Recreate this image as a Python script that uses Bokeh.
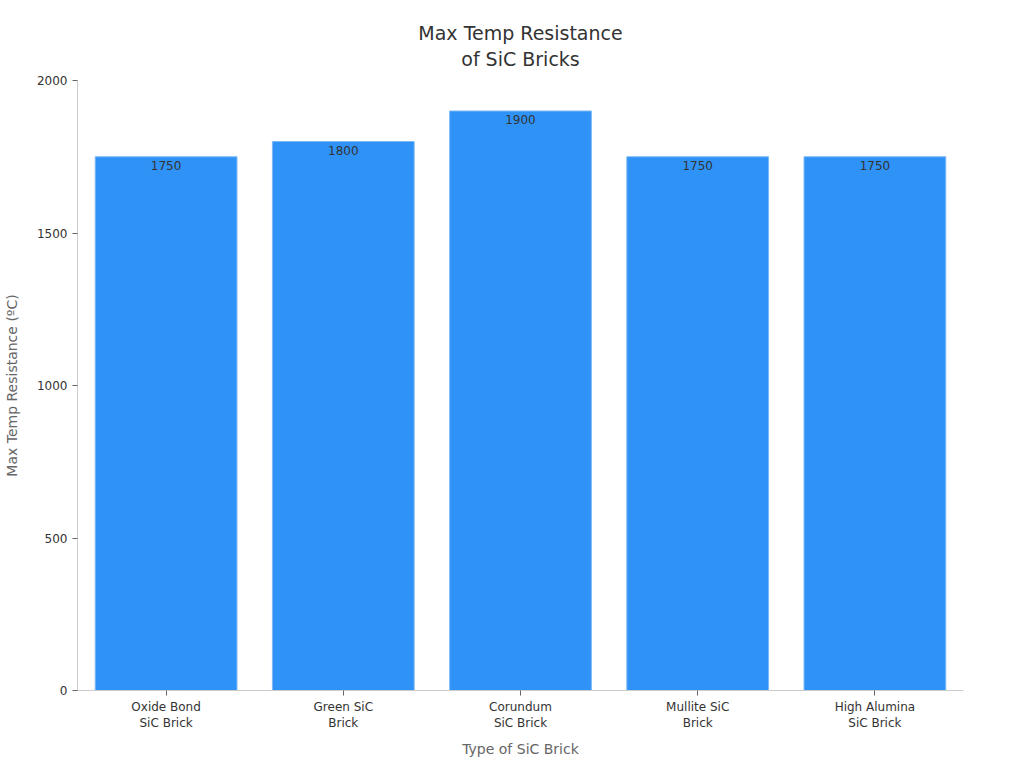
from bokeh.plotting import figure
from bokeh.models import ColumnDataSource, Range1d, FactorRange, LabelSet, FixedTicker, Title
from bokeh.core.properties import value
from bokeh.embed import file_html
from bokeh.resources import INLINE

categories = ["Oxide Bond\nSiC Brick", "Green SiC\nBrick", "Corundum\nSiC Brick",
              "Mullite SiC\nBrick", "High Alumina\nSiC Brick"]
values = [1750, 1800, 1900, 1750, 1750]
y_ticks = [0, 500, 1000, 1500, 2000]
title_lines = ["Max Temp Resistance", "of SiC Bricks"]

FONT = "DejaVu Sans"

src = ColumnDataSource(dict(cat=categories, val=values, lab=[str(v) for v in values]))

p = figure(width=1008, height=760, x_range=FactorRange(*categories, range_padding=0),
           y_range=Range1d(0, 2000), output_backend="svg", toolbar_location=None,
           min_border_left=69, min_border_right=45, min_border_top=80, min_border_bottom=69)

p.title.visible = False
for t, s in zip(reversed(title_lines), [22, -18]):
    p.add_layout(Title(text=t, align="center", text_font=FONT, text_font_size="19px",
                       text_font_style="normal", text_color="#333333",
                       standoff=s, offset=0), "above")

p.vbar(x="cat", top="val", width=0.8, source=src, fill_color="#2F92F7",
       line_color="#7DB8F5", line_width=1)

labels = LabelSet(x="cat", y="val", text="lab", source=src, text_align="center",
                  text_baseline="top", y_offset=-4, text_font=value(FONT),
                  text_font_size=value("12px"), text_color=value("#333333"))
p.add_layout(labels)

p.xgrid.visible = False
p.ygrid.visible = False
p.outline_line_color = None

p.yaxis.ticker = FixedTicker(ticks=y_ticks)
p.yaxis.minor_tick_line_color = None
p.yaxis.axis_line_color = "#cccccc"
p.yaxis.major_tick_line_color = "#666666"
p.yaxis.major_tick_out = 5
p.yaxis.major_tick_in = 0
p.yaxis.major_label_text_font = FONT
p.yaxis.major_label_text_font_size = "12px"
p.yaxis.major_label_text_color = "#333333"
p.yaxis.axis_label = "Max Temp Resistance (ºC)"
p.yaxis.axis_label_text_font = FONT
p.yaxis.axis_label_text_font_size = "14px"
p.yaxis.axis_label_text_font_style = "normal"
p.yaxis.axis_label_text_color = "#666666"
p.yaxis.axis_label_standoff = 14

p.xaxis.axis_line_color = "#cccccc"
p.xaxis.major_tick_line_color = "#666666"
p.xaxis.major_tick_out = 5
p.xaxis.major_tick_in = 0
p.xaxis.major_label_text_font = FONT
p.xaxis.major_label_text_font_size = "12px"
p.xaxis.major_label_text_color = "#333333"
p.xaxis.major_label_standoff = 4
p.xaxis.axis_label = "Type of SiC Brick"
p.xaxis.axis_label_text_font = FONT
p.xaxis.axis_label_text_font_size = "14px"
p.xaxis.axis_label_text_font_style = "normal"
p.xaxis.axis_label_text_color = "#666666"
p.xaxis.axis_label_standoff = 8

open("out.html", "w").write(file_html(p, INLINE))
